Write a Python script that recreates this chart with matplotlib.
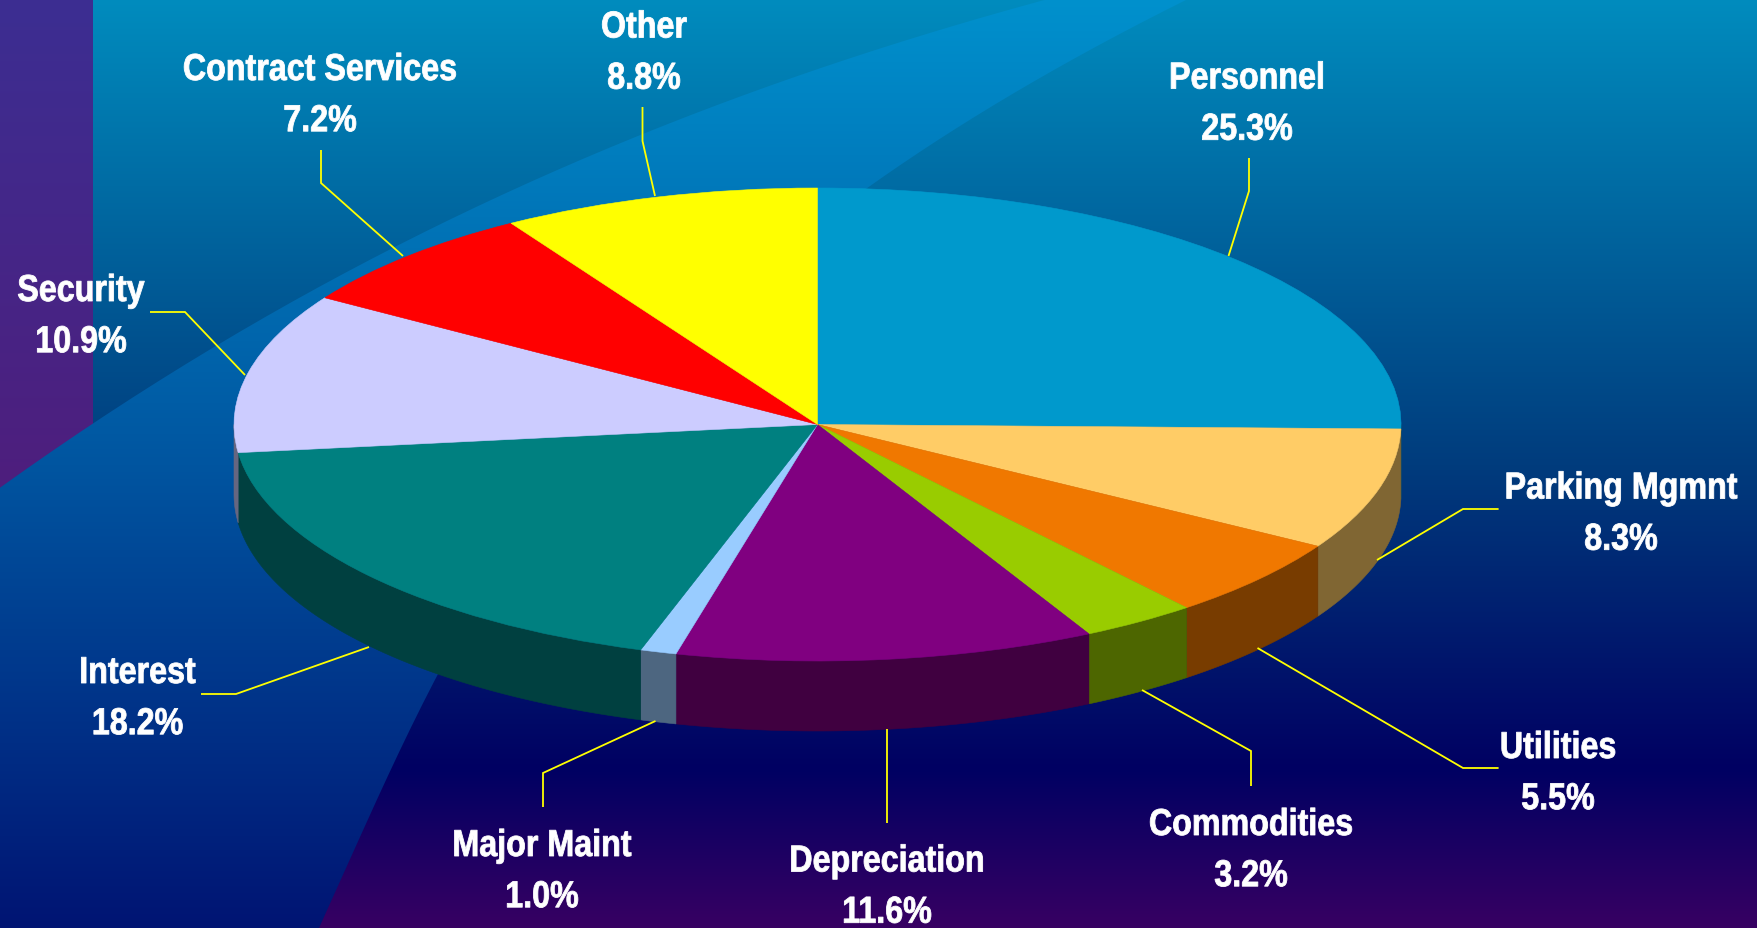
import numpy as np
import matplotlib
matplotlib.use("Agg")
import matplotlib.pyplot as plt
from matplotlib.colors import to_rgb
from matplotlib.path import Path
from matplotlib.patches import PathPatch
from matplotlib.patheffects import AbstractPathEffect
from matplotlib.transforms import Affine2D

labels = ["Personnel", "Parking Mgmnt", "Utilities", "Commodities", "Depreciation",
          "Major Maint", "Interest", "Security", "Contract Services", "Other"]
values = [25.3, 8.3, 5.5, 3.2, 11.6, 1.0, 18.2, 10.9, 7.2, 8.8]
colors = ["#0099CC", "#FFCC66", "#F07800", "#99CC00", "#800080",
          "#99CCFF", "#008080", "#CCCCFF", "#FF0000", "#FFFF00"]

W, H = 1757, 929
CX, CY, RX, RY, DEPTH = 817.5, 425.5, 583.5, 236.5, 70.0

# label anchors: horizontal centre and baseline of the name line, pixel coordinates
text_pos = [(1247, 89.5), (1621, 499.5), (1558, 759), (1251, 836), (887, 872.5),
            (542, 857), (137.5, 684), (81, 302), (320, 81), (644, 38.5)]
line_gap = 51.2
leaders = [
    [(1249, 159), (1249, 192), (1228.5, 257)],
    [(1498.6, 510), (1463, 510), (1377, 561)],
    [(1498.6, 769), (1463, 769), (1257.5, 649)],
    [(1251, 787), (1251, 752), (1142, 691)],
    [(887, 824), (887, 730)],
    [(543, 808), (543, 774), (655.5, 722)],
    [(201, 695), (236, 695), (369, 648)],
    [(150, 313), (185, 313), (245, 376)],
    [(321, 151), (321, 184), (403, 257)],
    [(642.5, 108), (642.5, 142), (655, 197)],
]


class Squeeze(AbstractPathEffect):
    """Narrow and slightly embolden a text's outline, as the reference's condensed type."""
    def __init__(self, cx, sx):
        super().__init__()
        self.cx, self.sx = cx, sx

    def draw_path(self, renderer, gc, tpath, affine, rgbFace=None):
        squeeze = Affine2D().translate(-self.cx, 0).scale(self.sx, 1).translate(self.cx, 0)
        g = renderer.new_gc()
        g.copy_properties(gc)
        g.set_foreground("white")
        g.set_linewidth(0.6)
        renderer.draw_path(g, tpath, affine + squeeze, rgbFace)
        g.restore()


fig = plt.figure(figsize=(W / 100, H / 100), dpi=100)

# ---------- background ----------
bg = fig.add_axes([0, 0, 1, 1], zorder=0)
bg.set_xlim(0, W); bg.set_ylim(H, 0); bg.axis("off")

def gradient(stops):
    ys = np.arange(H)
    sy, sc = zip(*stops)
    sc = np.array(sc, float)
    col = np.stack([np.interp(ys, sy, sc[:, i]) for i in range(3)], axis=1) / 255
    return np.repeat(col[:, None, :], 2, axis=1)

ext = (0, W, H, 0)
bg.imshow(gradient([(0, (0, 140, 190)), (465, (0, 60, 125)), (770, (0, 0, 98)), (929, (56, 0, 98))]),
          extent=ext, aspect="auto", zorder=0)

# left purple strip
strip = bg.imshow(gradient([(0, (60, 46, 146)), (490, (78, 30, 125)), (929, (78, 30, 125))]),
                  extent=ext, aspect="auto", zorder=1)
strip.set_clip_path(PathPatch(Path([(0, 0), (93, 0), (93, H), (0, H), (0, 0)]), transform=bg.transData))

# bright swoosh
up = np.polyfit([0, 93, 219, 403, 617, 880, 1048], [490, 423, 343, 248, 143, 50, 0], 3)
lo = np.polyfit([929, 675, 180, 0], [319, 438, 880, 1188], 3)
ux = np.linspace(0, 1048, 80)
ly = np.linspace(0, 929, 80)
poly = list(zip(ux, np.polyval(up, ux))) + list(zip(np.polyval(lo, ly), ly)) + [(0, H), (0, 490)]
sw = bg.imshow(gradient([(0, (0, 145, 205)), (465, (0, 85, 160)), (929, (0, 20, 115))]),
               extent=ext, aspect="auto", zorder=2)
sw.set_clip_path(PathPatch(Path(poly), transform=bg.transData))
bg.set_xlim(0, W); bg.set_ylim(H, 0)

# ---------- pie ----------
ax = fig.add_axes([0, 0, 1, 1], zorder=1)
ax.patch.set_alpha(0)

bounds = np.cumsum([0] + values) / sum(values) * 360.0   # clockwise from the top
for i, col in enumerate(colors):
    a0, a1 = max(bounds[i], 90), min(bounds[i + 1], 270)
    if a1 <= a0:
        continue
    t = np.radians(np.linspace(a0, a1, 80))
    x, y = np.sin(t), np.cos(t)
    dy = DEPTH / RY
    rgb = np.array(to_rgb(col)) / 2
    ax.fill(np.r_[x, x[::-1]], np.r_[y, y[::-1] - dy], color=rgb, lw=0.4)

wedges, _ = ax.pie(values, colors=colors, startangle=90, counterclock=False, radius=1,
                   wedgeprops=dict(linewidth=0.4))
for w, c in zip(wedges, colors):
    w.set_edgecolor(c)
ax.set_aspect("auto")
ax.set_xlim(-CX / RX, (W - CX) / RX)
ax.set_ylim((CY - H) / RY, CY / RY)
ax.axis("off")

# ---------- overlay: leaders + labels ----------
ov = fig.add_axes([0, 0, 1, 1], zorder=2)
ov.patch.set_alpha(0)
ov.set_xlim(0, W); ov.set_ylim(H, 0); ov.axis("off")
for pts in leaders:
    xs, ys = zip(*pts)
    ov.plot(xs, ys, color="#FFFF00", lw=1.3, solid_joinstyle="miter", solid_capstyle="butt")

font = ["Liberation Sans", "DejaVu Sans"]
for name, v, (x, y) in zip(labels, values, text_pos):
    for s, yy in ((name, y), (f"{v:.1f}%", y + line_gap)):
        ov.text(x, yy, s, color="white", fontweight="bold", fontsize=27, family=font,
                ha="center", va="baseline", path_effects=[Squeeze(x, 0.86)])

fig.savefig("out.png", dpi=100)
